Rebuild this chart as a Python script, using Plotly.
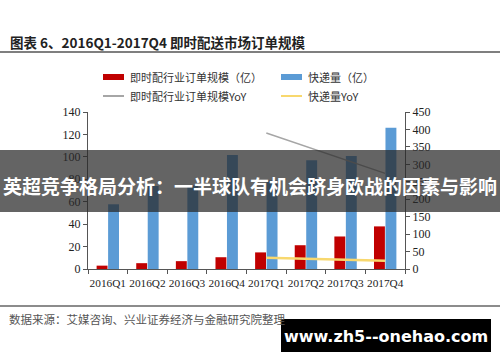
import plotly.graph_objects as go

# ---- data ----
categories = ["2016Q1", "2016Q2", "2016Q3", "2016Q4", "2017Q1", "2017Q2", "2017Q3", "2017Q4"]
instant_orders = [3.0, 5.2, 7.0, 10.5, 14.8, 21.2, 29.0, 38.0]          # 即时配行业订单规模（亿）
express_volume = [57.7, 74.0, 74.5, 101.7, 79.0, 97.0, 100.8, 126.0]     # 快递量（亿）
instant_yoy = [None, None, None, None, 390, 352, 313, 274]                # 即时配行业订单规模YoY (%)
express_yoy = [None, None, None, None, 32, 29, 27, 24]                    # 快递量YoY (%)
series_names = ["即时配行业订单规模（亿）", "快递量（亿）", "即时配行业订单规模YoY", "快递量YoY"]
left_ticks = [0, 20, 40, 60, 80, 100, 120, 140]
right_ticks = [0, 50, 100, 150, 200, 250, 300, 350, 400, 450]

title_text = "图表 6、2016Q1-2017Q4 即时配送市场订单规模"
source_text = "数据来源：艾媒咨询、兴业证券经济与金融研究院整理"
banner_text = "英超竞争格局分析：一半球队有机会跻身欧战的因素与影响"
watermark_text = "www.zh5--onehao.com"

RED = "#C00000"
BLUE = "#5B9BD5"
GRAY = "#A6A6A6"
YELLOW = "#F8D86E"

W, H = 500, 362
L, R, T, B = 88, 95, 112, 93
PW, PH = W - L - R, H - T - B


def px(x):
    return (x - L) / PW


def py(y):
    return (H - B - y) / PH


CJK = "Noto Sans CJK SC"
SERIF = "Liberation Serif"

fig = go.Figure()
fig.add_trace(go.Bar(x=categories, y=instant_orders, name=series_names[0],
                     marker=dict(color=RED, line=dict(width=0)), showlegend=False))
fig.add_trace(go.Bar(x=categories, y=express_volume, name=series_names[1],
                     marker=dict(color=BLUE, line=dict(width=0)), showlegend=False))
fig.add_trace(go.Scatter(x=categories, y=instant_yoy, name=series_names[2], yaxis="y2",
                         mode="lines", line=dict(color=GRAY, width=1.5), showlegend=False))
fig.add_trace(go.Scatter(x=categories, y=express_yoy, name=series_names[3], yaxis="y2",
                         mode="lines", line=dict(color=YELLOW, width=2.5), showlegend=False))

shapes = []
annotations = []

# title + rule
annotations.append(dict(text="<b>" + title_text + "</b>", x=px(8), y=py(42), xref="paper", yref="paper",
                        xanchor="left", yanchor="middle", showarrow=False,
                        font=dict(family=CJK, size=13.5, color="#222")))
shapes.append(dict(type="line", xref="paper", yref="paper", x0=px(0), x1=px(500), y0=py(52), y1=py(52),
                   line=dict(color="#555", width=1.5)))

# manual legend
leg_items = [
    (103, 77, "rect", RED, series_names[0]),
    (281, 77, "rect", BLUE, series_names[1]),
    (103, 96, "line", GRAY, series_names[2]),
    (281, 96, "line", YELLOW, series_names[3]),
]
for x0, yc, kind, col, name in leg_items:
    if kind == "rect":
        shapes.append(dict(type="rect", xref="paper", yref="paper", x0=px(x0), x1=px(x0 + 21),
                           y0=py(yc + 3), y1=py(yc - 3), fillcolor=col, line=dict(width=0)))
    else:
        shapes.append(dict(type="line", xref="paper", yref="paper", x0=px(x0), x1=px(x0 + 21),
                           y0=py(yc), y1=py(yc), line=dict(color=col, width=2)))
    annotations.append(dict(text=name, x=px(x0 + 25), y=py(yc), xref="paper", yref="paper",
                            xanchor="left", yanchor="middle", showarrow=False,
                            font=dict(family=CJK, size=11, color="#333")))

# bottom rule + source
shapes.append(dict(type="line", xref="paper", yref="paper", x0=px(0), x1=px(500), y0=py(306), y1=py(306),
                   line=dict(color="#666", width=1.5)))
annotations.append(dict(text=source_text, x=px(7), y=py(319), xref="paper", yref="paper",
                        xanchor="left", yanchor="middle", showarrow=False,
                        font=dict(family=CJK, size=11.5, color="#555")))

# banner overlay
shapes.append(dict(type="rect", xref="paper", yref="paper", x0=px(-2), x1=px(502), y0=py(212), y1=py(150),
                   fillcolor="rgba(40,40,40,0.72)", line=dict(width=0), layer="above"))
annotations.append(dict(text="<b>" + banner_text + "</b>", x=px(250), y=py(185), xref="paper", yref="paper",
                        xanchor="center", yanchor="middle", showarrow=False,
                        font=dict(family=CJK, size=19, color="white")))

# watermark
shapes.append(dict(type="rect", xref="paper", yref="paper", x0=px(281), x1=px(491), y0=py(352), y1=py(319),
                   fillcolor="black", line=dict(width=0), layer="above"))
annotations.append(dict(text="<b>" + watermark_text + "</b>", x=px(386), y=py(336), xref="paper", yref="paper",
                        xanchor="center", yanchor="middle", showarrow=False,
                        font=dict(family="DejaVu Sans", size=16, color="white")))

fig.update_layout(
    width=W, height=H,
    margin=dict(l=L, r=R, t=T, b=B, pad=0),
    paper_bgcolor="white", plot_bgcolor="white",
    barmode="group", bargap=0.42, bargroupgap=0.05,
    showlegend=False,
    shapes=shapes, annotations=annotations,
    xaxis=dict(type="category", showline=True, linecolor="#555", linewidth=1,
               ticks="outside", tickson="boundaries", ticklen=4, tickcolor="#555",
               tickangle=0, ticklabelstandoff=3, showgrid=False,
               tickfont=dict(family=SERIF, size=11.3, color="#222")),
    yaxis=dict(range=[0, 140], tickvals=left_ticks, showline=True, linecolor="#555", linewidth=1,
               ticks="outside", ticklen=4, tickcolor="#555", showgrid=False, zeroline=False,
               tickfont=dict(family=SERIF, size=12, color="#222")),
    yaxis2=dict(range=[0, 450], tickvals=right_ticks, ticksuffix="%", overlaying="y", side="right",
                showline=True, linecolor="#555", linewidth=1, ticks="outside", ticklen=4,
                tickcolor="#555", showgrid=False, zeroline=False,
                tickfont=dict(family=SERIF, size=12, color="#222")),
)

fig.write_html("out.html")
